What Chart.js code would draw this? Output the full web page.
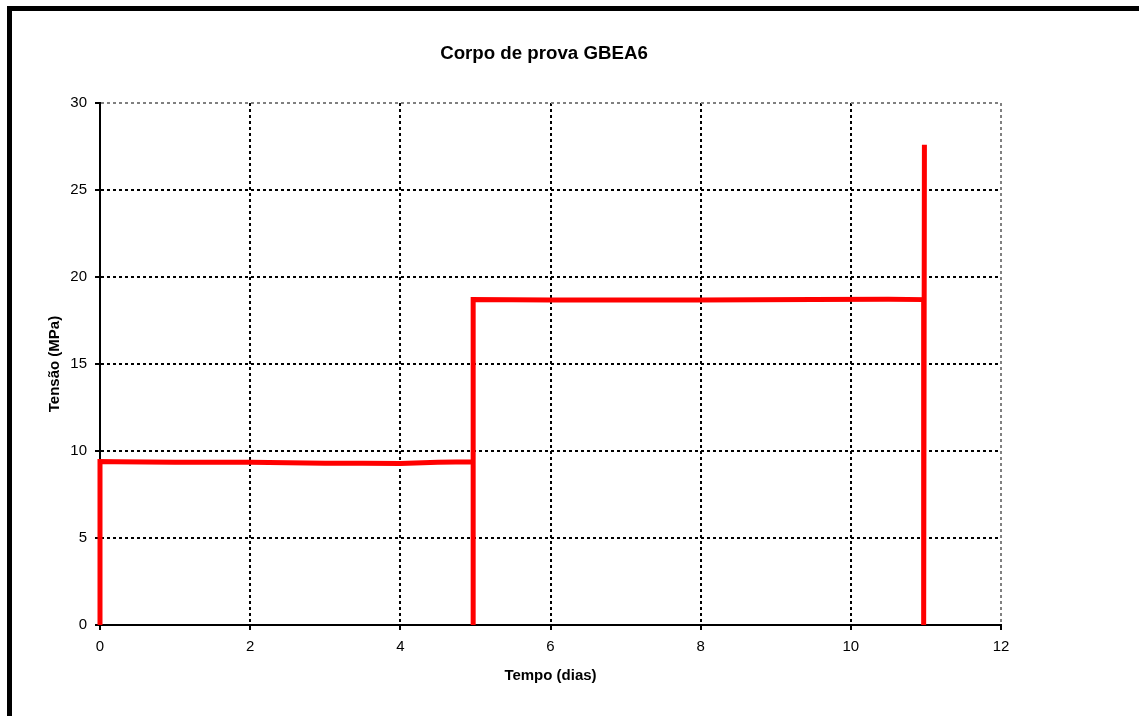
<!DOCTYPE html>
<html>
<head>
<meta charset="utf-8">
<title>Corpo de prova GBEA6</title>
<script src="https://cdn.jsdelivr.net/npm/chart.js@4"></script>
<style>
  body { margin: 0; background: #fff; }
  canvas { display: block; }
</style>
</head>
<body>
<canvas id="myChart" width="1139" height="716"></canvas>
<script>
const chartTitle = "Corpo de prova GBEA6";
const xTitle = "Tempo (dias)";
const yTitle = "Tensão (MPa)";

// tempo (dias) and tensão (MPa)
const timeDays = [0, 0, 0.2, 1, 2, 3, 3.5, 4, 4.5, 4.97, 4.97, 4.97, 6, 8, 9.5, 10.5, 10.97, 10.97, 10.98];
const stressMPa = [0, 9.4, 9.38, 9.35, 9.35, 9.3, 9.3, 9.28, 9.35, 9.38, 0, 18.7, 18.68, 18.68, 18.7, 18.72, 18.7, 0, 27.6];

const xTicks = [0, 2, 4, 6, 8, 10, 12];
const yTicks = [0, 5, 10, 15, 20, 25, 30];

const points = timeDays.map((t, i) => ({ x: t, y: stressMPa[i] }));
const font = "'Liberation Sans', Arial, sans-serif";

// black frame around the picture + title text
const framePlugin = {
  id: "frame",
  beforeDraw(chart) {
    const ctx = chart.ctx;
    ctx.save();
    ctx.fillStyle = "#fff";
    ctx.fillRect(0, 0, chart.width, chart.height);
    ctx.fillStyle = "#000";
    ctx.fillRect(7, 6, chart.width - 7, 5);
    ctx.fillRect(7, 6, 5, chart.height - 6);
    ctx.restore();
  },
  afterDraw(chart) {
    const ctx = chart.ctx;
    ctx.save();
    ctx.fillStyle = "#000";
    ctx.font = "bold 18.7px " + font;
    ctx.textAlign = "center";
    ctx.textBaseline = "middle";
    ctx.fillText(chartTitle, 544, 54);
    ctx.restore();
  },
};

const gridColor = (edge) => (c) => (c.tick && c.tick.value === edge ? "#808080" : "#000");

const config = {
  type: "scatter",
  data: {
    datasets: [
      {
        data: points,
        showLine: true,
        borderColor: "#ff0000",
        backgroundColor: "#ff0000",
        borderWidth: 5,
        pointRadius: 0,
        tension: 0,
        borderJoinStyle: "miter",
        clip: false,
      },
    ],
  },
  options: {
    responsive: false,
    animation: false,
    layout: { padding: { top: 103, right: 138, left: 0, bottom: 0 } },
    plugins: {
      legend: { display: false },
      tooltip: { enabled: false },
      title: { display: false },
    },
    scales: {
      x: {
        type: "linear",
        min: 0,
        max: 12,
        afterBuildTicks: (s) => { s.ticks = xTicks.map((v) => ({ value: v })); },
        afterFit: (s) => { s.height = 91; },
        ticks: { color: "#000", font: { family: font, size: 15 }, padding: 8, maxRotation: 0 },
        grid: {
          color: gridColor(12),
          lineWidth: 2,
          tickLength: 5,
          tickColor: "#000",
          tickWidth: 2,
          tickBorderDash: [],
        },
        border: { color: "#000", width: 2, dash: [3, 3] },
        title: {
          display: true,
          text: xTitle,
          color: "#000",
          font: { family: font, size: 15, weight: "bold" },
          padding: { top: 0, bottom: 31 },
        },
      },
      y: {
        min: 0,
        max: 30,
        afterBuildTicks: (s) => { s.ticks = yTicks.map((v) => ({ value: v })); },
        afterFit: (s) => { s.width = 100; },
        ticks: { color: "#000", font: { family: font, size: 15 }, padding: 8 },
        grid: {
          color: gridColor(30),
          lineWidth: 2,
          tickLength: 5,
          tickColor: "#000",
          tickWidth: 2,
          tickBorderDash: [],
        },
        border: { color: "#000", width: 2, dash: [3, 3] },
        title: {
          display: true,
          text: yTitle,
          color: "#000",
          font: { family: font, size: 15, weight: "bold" },
          padding: { top: 46, bottom: 0 },
        },
      },
    },
  },
  plugins: [framePlugin],
};

const chart = new Chart(document.getElementById("myChart"), config);
</script>
</body>
</html>
